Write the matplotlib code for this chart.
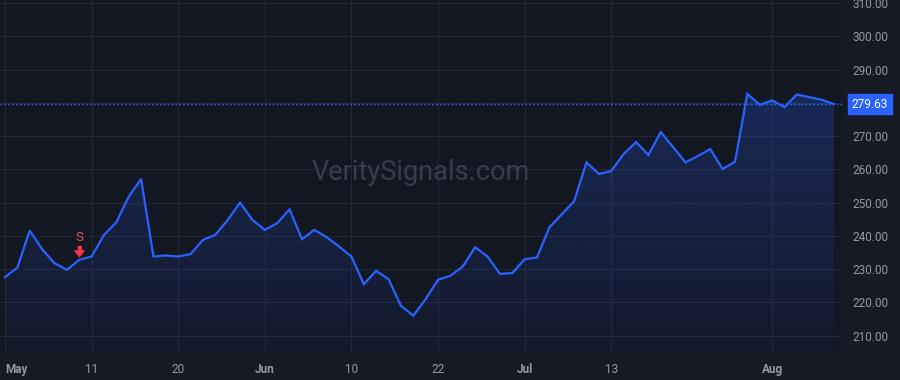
import numpy as np
import matplotlib
matplotlib.use("Agg")
import matplotlib.pyplot as plt
from matplotlib import transforms
from matplotlib.colors import to_rgba
from matplotlib.patches import Polygon

# ---- data ----
prices = [227.6, 230.5, 241.6, 236.0, 231.8, 229.8, 232.8, 233.8, 240.3, 244.1,
          251.8, 257.1, 233.8, 234.1, 233.8, 234.5, 238.8, 240.3, 244.8, 250.0,
          244.8, 241.8, 243.8, 248.0, 239.0, 241.8, 239.6, 236.8, 233.8, 225.5,
          229.5, 227.0, 219.0, 216.0, 221.0, 226.8, 228.0, 230.8, 236.6, 233.8,
          228.6, 228.8, 233.0, 233.5, 242.6, 246.5, 250.4, 262.1, 258.6, 259.5,
          264.6, 268.2, 264.3, 271.2, 266.7, 262.1, 264.0, 266.1, 260.1, 262.3,
          282.7, 279.4, 280.7, 278.7, 282.5, 281.7, 280.9, 279.63]
date_tick_pos = [0, 7, 14, 21, 28, 35, 42, 49, 62]
date_tick_labels = ["May", "11", "20", "Jun", "10", "22", "Jul", "13", "Aug"]
month_labels = {"May", "Jun", "Jul", "Aug"}
price_ticks = [210, 220, 230, 240, 250, 260, 270, 280, 290, 300, 310]
signal_index = 6
signal_label = "S"
last_price = prices[-1]
watermark = "VeritySignals.com"

# ---- style ----
BG = "#131722"
PANEL = "#161a25"
GRID = "#232733"
LINE = "#2962ff"
TXT = "#9598a1"
RED = "#f23645"
FONT = "Roboto"

fig = plt.figure(figsize=(9, 3.8), dpi=100, facecolor=PANEL)
ax = fig.add_axes([0, 28 / 380, 842 / 900, 352 / 380])
ax.set_facecolor(BG)

x = np.arange(len(prices))
y = np.array(prices)
ax.set_xlim(-0.404, 67.65)
ax.set_ylim(205.1, 310.9)

# gradient fill under line
ymin, ymax = ax.get_ylim()
top_c = np.array(to_rgba(LINE, 0.24))
bot_c = np.array(to_rgba(LINE, 0.04))
n = 256
grad = np.linspace(0, 1, n)[:, None]
img = (top_c[None, None, :] * (1 - grad[:, :, None]) + bot_c[None, None, :] * grad[:, :, None])
img = np.repeat(img, 2, axis=1)
im = ax.imshow(img, extent=[x[0], x[-1], ymin, y.max()], aspect="auto",
               origin="upper", zorder=1, interpolation="bilinear")
verts = [(x[0], ymin)] + list(zip(x, y)) + [(x[-1], ymin)]
clip = Polygon(verts, closed=True, facecolor="none", edgecolor="none",
               transform=ax.transData)
ax.add_patch(clip)
im.set_clip_path(clip)

ax.plot(x, y, color=LINE, lw=1.6, zorder=3, solid_joinstyle="miter")

# last price dotted line
ax.axhline(last_price, color=LINE, lw=1.0, ls=(0, (1.2, 1.6)), zorder=2)

# grid
ax.set_xticks(date_tick_pos)
ax.set_yticks(price_ticks)
ax.grid(True, color=GRID, lw=0.8, zorder=0)
ax.set_axisbelow(True)
for s in ax.spines.values():
    s.set_visible(False)

ax.yaxis.tick_right()
ax.tick_params(axis="y", length=0, pad=7.5, colors=TXT, labelsize=8.5)
ax.set_yticklabels([f"{v:.2f}" for v in price_ticks], fontfamily=FONT)
ax.tick_params(axis="x", length=0, pad=8, colors=TXT, labelsize=8.5)
ax.set_xticklabels(date_tick_labels, fontfamily=FONT)
for lab in ax.get_xticklabels():
    if lab.get_text() in month_labels:
        lab.set_fontweight("bold")
ax.get_xticklabels()[0].set_horizontalalignment("left")
ax.get_xticklabels()[0].set_x(-0.404)

# watermark
ax.text(0.5, 0.51, watermark, transform=ax.transAxes, ha="center", va="center",
        fontsize=19.5, color="#393d49", fontfamily=FONT, zorder=1)

# signal marker
sig_y = prices[signal_index]
arrow_tr = transforms.offset_copy(ax.transData, fig=fig, x=0, y=9, units="dots")
arrow = [(-1.8, 5), (1.8, 5), (1.8, 0.6), (4.6, 0.6), (0, -5), (-4.6, 0.6), (-1.8, 0.6)]
ax.plot([signal_index], [sig_y], marker=arrow, markersize=7.2, color=RED,
        transform=arrow_tr, zorder=5, clip_on=False)
ax.annotate(signal_label, xy=(signal_index, sig_y), xytext=(0, 16),
            textcoords="offset points", ha="center", va="center",
            color="#e5505c", fontsize=9.5, fontfamily=FONT, zorder=5)

# last price label
ax.annotate(f"{last_price:.2f}", xy=(1, last_price), xycoords=("axes fraction", "data"),
            xytext=(7.0, 0), textcoords="offset points", ha="left", va="center",
            color="white", fontsize=8.5, fontfamily=FONT, annotation_clip=False,
            bbox=dict(boxstyle="square,pad=0.3", fc=LINE, ec=LINE), zorder=10)

fig.savefig("out.png", dpi=100, facecolor=PANEL)
